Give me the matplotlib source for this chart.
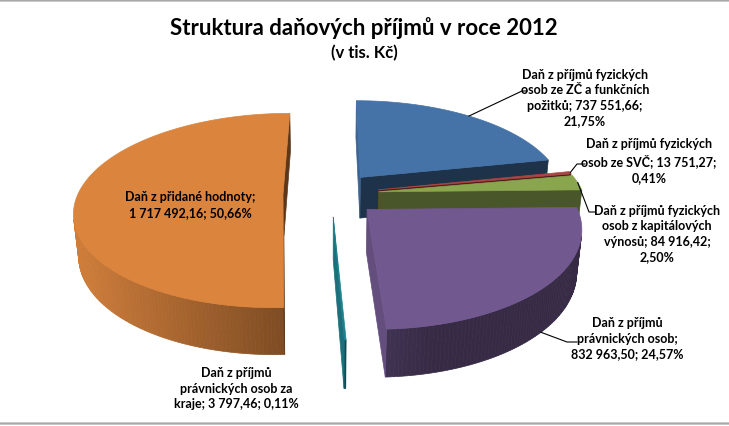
import textwrap
import numpy as np
import matplotlib
matplotlib.use("Agg")
import matplotlib.pyplot as plt
from matplotlib.patches import Polygon, FancyBboxPatch

# data (v tis. Kč), order clockwise from the top of the pie
kategorie = [
    "Daň z příjmů fyzických osob ze ZČ a funkčních požitků",
    "Daň z příjmů fyzických osob ze SVČ",
    "Daň z příjmů fyzických osob z kapitálových výnosů",
    "Daň z příjmů právnických osob",
    "Daň z příjmů právnických osob za kraje",
    "Daň z přidané hodnoty",
]
hodnoty = [737551.66, 13751.27, 84916.42, 832963.50, 3797.46, 1717492.16]
barvy = ["#4572A7", "#AA4643", "#89A54E", "#71588F", "#1F7F8C", "#DB843D"]

nazev = "Struktura daňových příjmů v roce 2012"
podnazev = "(v tis. Kč)"

# label layout: centre of text, wrap width, leader (elbow, end) or None, anchor z
popisky_xy = [(585, 98), (649, 161), (657, 234), (627, 339), (236, 389), (190, 205)]
zalomeni = [23, 23, 23, 18, 22, 22]
vodici = [((522, 92), (527, 92)), ((577, 165), (585, 165)),
          ((589, 213), (595, 213)), ((567, 343), (577, 343)), None, None]
kotva_z = [0.0, 0.0, 0.0, -1.0, 0.0, 0.0]

# 3d view parameters (pixel space)
cx, cy = 331, 195
F = 1103.0
D = 5.38
elev = np.radians(27.4)
H = 0.233
E = 0.234
cam = np.array([0.0, -D * np.cos(elev), D * np.sin(elev)])
light = np.array([-0.97, -0.24])


def proj(X, Y, Z):
    up = Y * np.sin(elev) + Z * np.cos(elev)
    d = D + Y * np.cos(elev) - Z * np.sin(elev)
    return cx + F * X / d, cy - F * up / d


def depth(X, Y, Z):
    return D + Y * np.cos(elev) - Z * np.sin(elev)


def shade(c, n2, base=0.48):
    rgb = np.array(matplotlib.colors.to_rgb(c))
    k = base + 0.47 * max(0.0, float(np.dot(n2, light)))
    return tuple(np.clip(rgb * k, 0, 1))


def visible(n2, P):
    n = np.array([n2[0], n2[1], 0.0])
    return np.dot(n, cam - P) > 0


def fmt_cz(v):
    s = f"{v:,.2f}"
    return s.replace(",", "\u00a0").replace(".", ",")


total = sum(hodnoty)
podily = [v / total for v in hodnoty]

fig = plt.figure(figsize=(7.29, 4.27), dpi=100)
ax = fig.add_axes([0, 0, 1, 1])
ax.set_xlim(0, 729)
ax.set_ylim(427, 0)
ax.axis("off")

plt.rcParams["font.family"] = ["Lato", "DejaVu Sans"]

ax.add_patch(FancyBboxPatch((-8, 1.5), 745, 423, boxstyle="round,pad=0,rounding_size=8",
                            fc="white", ec="#A8A8A8", lw=1.6, zorder=0))

# slice angles (degrees, CCW), starting at top going clockwise
slices = []
start = 90.0
for i, p in enumerate(podily):
    t1 = start
    t0 = start - p * 360.0
    start = t0
    mid = np.radians((t0 + t1) / 2)
    off = np.array([E * np.cos(mid), E * np.sin(mid)])
    slices.append((i, t0, t1, off))

# painter: far slices first
order = sorted(slices, key=lambda s: -depth(s[3][0] + 0.5 * np.cos(np.radians((s[1] + s[2]) / 2)),
                                             s[3][1] + 0.5 * np.sin(np.radians((s[1] + s[2]) / 2)), 0))

for i, t0, t1, off in order:
    col = barvy[i]
    ox, oy = off
    n = max(4, int((t1 - t0) / 1.0) + 2)
    ts = np.radians(np.linspace(t0, t1, n))
    faces = []
    # rim
    for a, b in zip(ts[:-1], ts[1:]):
        m = (a + b) / 2
        n2 = np.array([np.cos(m), np.sin(m)])
        P = np.array([ox + np.cos(m), oy + np.sin(m), -H / 2])
        if visible(n2, P):
            pts = [proj(ox + np.cos(a), oy + np.sin(a), 0), proj(ox + np.cos(b), oy + np.sin(b), 0),
                   proj(ox + np.cos(b), oy + np.sin(b), -H), proj(ox + np.cos(a), oy + np.sin(a), -H)]
            faces.append((pts, shade(col, n2)))
    # radial faces
    for t, sgn in ((ts[0], -1), (ts[-1], 1)):
        n2 = np.array([np.cos(t + sgn * np.pi / 2), np.sin(t + sgn * np.pi / 2)])
        P = np.array([ox + 0.5 * np.cos(t), oy + 0.5 * np.sin(t), -H / 2])
        if visible(n2, P):
            pts = [proj(ox, oy, 0), proj(ox + np.cos(t), oy + np.sin(t), 0),
                   proj(ox + np.cos(t), oy + np.sin(t), -H), proj(ox, oy, -H)]
            faces.append((pts, shade(col, n2, base=0.42)))
    for pts, c in faces:
        ax.add_patch(Polygon(pts, closed=True, fc=c, ec=c, lw=0.5, zorder=2))
    top = [proj(ox, oy, 0)] + [proj(ox + np.cos(t), oy + np.sin(t), 0) for t in ts]
    ax.add_patch(Polygon(top, closed=True, fc=col, ec=col, lw=0.5, zorder=2))

# labels
for i, (name, v, p) in enumerate(zip(kategorie, hodnoty, podily)):
    txt = f"{name}; {fmt_cz(v)}; {p * 100:.2f}%".replace(".", ",")
    txt = "\n".join(textwrap.wrap(txt, zalomeni[i]))
    x, y = popisky_xy[i]
    ax.text(x, y, txt, ha="center", va="center", fontsize=9, fontweight="bold",
            linespacing=1.35, color="black", zorder=5)
    if vodici[i] is not None:
        _, t0, t1, off = slices[i]
        m = np.radians((t0 + t1) / 2)
        a = proj(off[0] + np.cos(m), off[1] + np.sin(m), kotva_z[i] * H)
        (ex, ey), (fx, fy) = vodici[i]
        ax.plot([a[0], ex, fx], [a[1], ey, fy], color="black", lw=0.8, zorder=4)

ax.text(364, 28, nazev, ha="center", va="center", fontsize=16, fontweight="bold")
ax.text(364, 53, podnazev, ha="center", va="center", fontsize=12, fontweight="bold")

fig.savefig("out.png", dpi=100)
